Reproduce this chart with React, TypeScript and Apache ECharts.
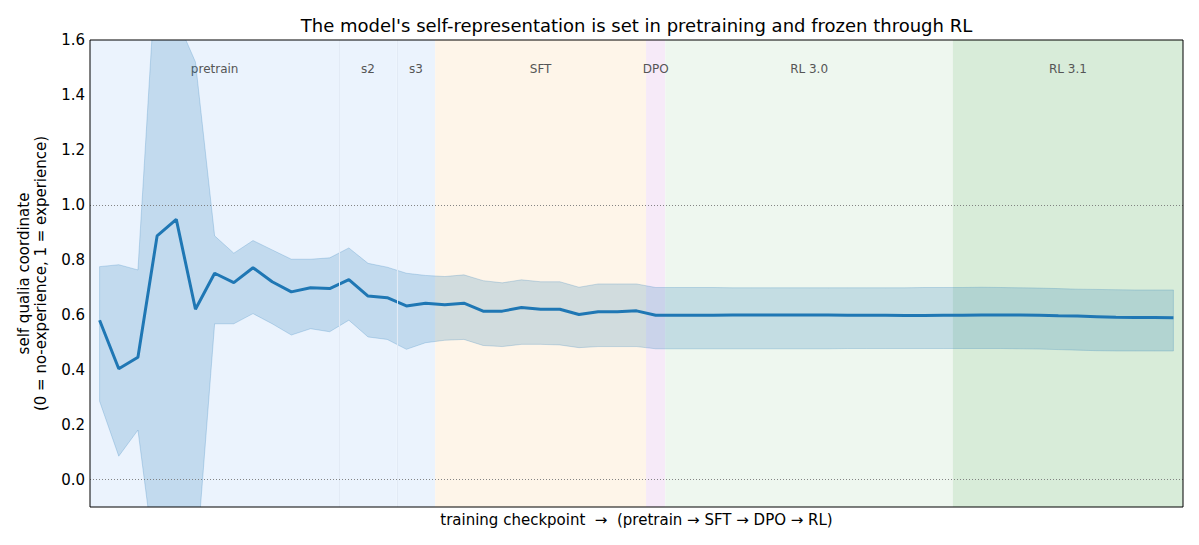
import React, { useEffect, useRef } from "react";
import * as echarts from "echarts";

// Self qualia coordinate per training checkpoint (mean with spread band)
const meanValues = [
  0.580, 0.403, 0.445, 0.887, 0.947, 0.620, 0.751, 0.717, 0.771, 0.720,
  0.683, 0.698, 0.695, 0.728, 0.668, 0.662, 0.632, 0.642, 0.636, 0.642,
  0.613, 0.613, 0.626, 0.620, 0.620, 0.601, 0.611, 0.611, 0.614, 0.598,
  0.598, 0.598, 0.598, 0.599, 0.599, 0.599, 0.599, 0.599, 0.599, 0.598,
  0.598, 0.598, 0.597, 0.597, 0.598,
  0.598, 0.599, 0.599, 0.599, 0.598, 0.596, 0.595, 0.593, 0.591, 0.590,
  0.590, 0.589,
];
const upperValues = [
  0.775, 0.782, 0.763, 1.92, 1.68, 1.52, 0.887, 0.824, 0.870, 0.836,
  0.802, 0.802, 0.807, 0.843, 0.787, 0.773, 0.751, 0.743, 0.739, 0.745,
  0.724, 0.716, 0.727, 0.720, 0.720, 0.700, 0.712, 0.712, 0.712, 0.699,
  0.699, 0.699, 0.699, 0.698, 0.698, 0.698, 0.698, 0.698, 0.698, 0.698,
  0.698, 0.698, 0.698, 0.699, 0.699,
  0.699, 0.700, 0.699, 0.698, 0.697, 0.695, 0.693, 0.692, 0.691, 0.690,
  0.690, 0.690,
];
const lowerValues = [
  0.285, 0.085, 0.180, -0.36, -0.30, -0.334, 0.567, 0.567, 0.604, 0.567,
  0.526, 0.549, 0.538, 0.580, 0.519, 0.510, 0.474, 0.498, 0.507, 0.510,
  0.488, 0.484, 0.492, 0.492, 0.490, 0.480, 0.484, 0.484, 0.484, 0.476,
  0.476, 0.476, 0.476, 0.476, 0.476, 0.476, 0.476, 0.476, 0.476, 0.477,
  0.477, 0.477, 0.477, 0.477, 0.477,
  0.477, 0.477, 0.477, 0.476, 0.475, 0.473, 0.471, 0.469, 0.468, 0.468,
  0.468, 0.468,
];

// Training phases (checkpoint index ranges)
const phaseNames = ["pretrain", "s2", "s3", "SFT", "DPO", "RL 3.0", "RL 3.1"];
const phaseStart = [-0.5, 12.5, 15.5, 17.5, 28.5, 29.5, 44.5];
const phaseEnd = [12.5, 15.5, 17.5, 28.5, 29.5, 44.5, 56.5];
const phaseSplits = [12.5, 15.5];

const yTicks = [0, 0.2, 0.4, 0.6, 0.8, 1.0, 1.2, 1.4, 1.6];
const refLines = [0, 1];

const phaseColors = ["#EBF3FD", "#EBF3FD", "#EBF3FD", "#FEF5E9", "#F6EAF8", "#EEF7EF", "#D8ECD9"];
const LINE = "#1f77b4";
const FONT = "DejaVu Sans";

export default function App() {
  const ref = useRef<HTMLDivElement>(null);

  useEffect(() => {
    if (!ref.current) return;
    const chart = echarts.init(ref.current, undefined, { renderer: "svg" });

    const xs = meanValues.map((_, i) => i);
    const meanData = xs.map((x, i) => [x, meanValues[i]]);

    const gridLeft = 90;
    const gridTop = 40;
    const gridW = 1093;
    const gridH = 467;

    // Spread band: polygon through the upper edge then back along the lower edge
    const renderBand = (params: any, api: any) => {
      const upper = xs.map((x, i) => api.coord([x, upperValues[i]]));
      const lower = xs.map((x, i) => api.coord([x, lowerValues[i]])).reverse();
      const cs = params.coordSys;
      return {
        type: "group",
        clipPath: { type: "rect", shape: { x: cs.x, y: cs.y, width: cs.width, height: cs.height } },
        children: [
          {
            type: "polygon",
            shape: { points: upper.concat(lower) },
            style: { fill: "rgba(31,119,180,0.2)", stroke: "rgba(31,119,180,0.22)", lineWidth: 1 },
          },
        ],
      };
    };

    chart.setOption({
      animation: false,
      textStyle: { fontFamily: FONT },
      grid: { left: gridLeft, top: gridTop, width: gridW, height: gridH },
      xAxis: {
        type: "value",
        min: -0.5,
        max: 56.5,
        axisLine: { show: false },
        axisTick: { show: false },
        axisLabel: { show: false },
        splitLine: { show: false },
      },
      yAxis: {
        type: "value",
        min: -0.1,
        max: 1.6,
        axisLine: { show: false },
        axisTick: {
          show: true,
          length: 5,
          customValues: yTicks,
          lineStyle: { color: "#000", width: 1 },
        },
        axisLabel: {
          show: true,
          customValues: yTicks,
          margin: 5,
          fontSize: 15,
          color: "#000",
          fontFamily: FONT,
          formatter: (v: number) => v.toFixed(1),
        },
        splitLine: { show: false },
      },
      graphic: [
        {
          type: "text",
          x: gridLeft + gridW / 2,
          y: 25,
          z: 100,
          style: {
            text: "The model's self-representation is set in pretraining and frozen through RL",
            textAlign: "center",
            textVerticalAlign: "middle",
            font: `18px "${FONT}"`,
            fill: "#000",
          },
        },
        {
          type: "text",
          x: gridLeft + gridW / 2,
          y: 520,
          z: 100,
          style: {
            text: "training checkpoint  \u2192  (pretrain \u2192 SFT \u2192 DPO \u2192 RL)",
            textAlign: "center",
            textVerticalAlign: "middle",
            font: `15px "${FONT}"`,
            fill: "#000",
          },
        },
        {
          type: "text",
          x: 32,
          y: gridTop + gridH / 2,
          rotation: Math.PI / 2,
          z: 100,
          style: {
            text: "self qualia coordinate\n(0 = no-experience, 1 = experience)",
            textAlign: "center",
            textVerticalAlign: "middle",
            font: `15px "${FONT}"`,
            lineHeight: 17,
            fill: "#000",
          },
        },
        {
          type: "rect",
          z: 100,
          shape: { x: gridLeft, y: gridTop, width: gridW, height: gridH },
          style: { fill: null, stroke: "#000", lineWidth: 1 },
        },
      ],
      series: [
        {
          type: "line",
          z: 1,
          data: [],
          silent: true,
          markArea: {
            silent: true,
            label: {
              show: true,
              position: "insideTop",
              distance: 23,
              fontSize: 12,
              color: "#555",
              fontFamily: FONT,
            },
            data: phaseNames.map((name, i) => [
              { name, xAxis: phaseStart[i], itemStyle: { color: phaseColors[i] } },
              { xAxis: phaseEnd[i] },
            ]),
          },
          markLine: {
            silent: true,
            symbol: "none",
            label: { show: false },
            data: [
              ...phaseSplits.map((x) => ({
                xAxis: x,
                lineStyle: { color: "#E2EAF5", width: 1, type: "solid" },
              })),
              ...refLines.map((y) => ({
                yAxis: y,
                lineStyle: { color: "#777", width: 0.9, type: [1, 2] },
              })),
            ],
          },
        },
        {
          type: "custom",
          z: 2,
          silent: true,
          renderItem: renderBand,
          data: [0],
        },
        {
          type: "line",
          z: 3,
          data: meanData,
          symbol: "none",
          lineStyle: { color: LINE, width: 3 },
          silent: true,
        },
      ],
    });

    return () => chart.dispose();
  }, []);

  return (
    <div
      ref={ref}
      style={{ position: "fixed", left: 0, top: 0, width: 1199, height: 545, background: "#fff" }}
    />
  );
}
